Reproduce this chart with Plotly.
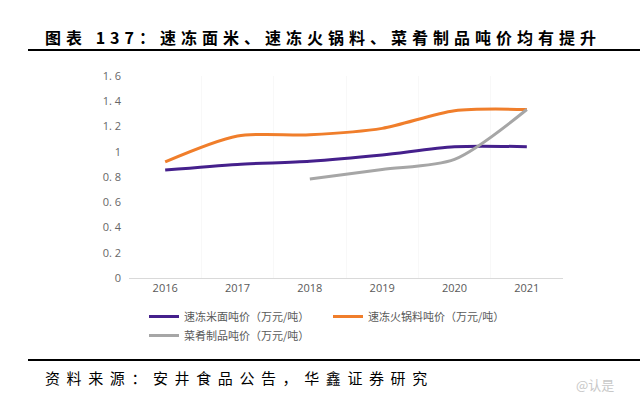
import plotly.graph_objects as go

years = ["2016", "2017", "2018", "2019", "2020", "2021"]
mian_mi = [0.855, 0.90, 0.925, 0.975, 1.04, 1.04]
huoguo = [0.92, 1.125, 1.135, 1.185, 1.325, 1.335]
caiyao = [None, None, 0.785, 0.86, 0.94, 1.335]
names = ["速冻米面吨价（万元/吨）", "速冻火锅料吨价（万元/吨）", "菜肴制品吨价（万元/吨）"]
colors = ["#45208C", "#F07E2B", "#A6A6A6"]
yticks = [0, 0.2, 0.4, 0.6, 0.8, 1.0, 1.2, 1.4, 1.6]
ytext = ["0", "0. 2", "0. 4", "0. 6", "0. 8", "1", "1. 2", "1. 4", "1. 6"]

fig = go.Figure()
for vals, nm, c in zip([mian_mi, huoguo, caiyao], names, colors):
    fig.add_trace(go.Scatter(x=years, y=vals, name=nm, mode="lines",
                             line=dict(color=c, width=3, shape="spline", smoothing=0.8),
                             connectgaps=False))

L, R, T, B = 129, 77, 76, 131
W, H = 640 - L - R, 409 - T - B

def px(x):
    return (x - L) / W

def py(y):
    return (409 - B - y) / H

fig.update_layout(
    template="none",
    width=640, height=409,
    margin=dict(l=L, r=R, t=T, b=B, autoexpand=False),
    paper_bgcolor="white", plot_bgcolor="white",
    font=dict(family="Noto Sans CJK SC, sans-serif", color="#595959", size=11),
    xaxis=dict(type="category", range=[-0.5, 5.5], showgrid=True, gridcolor="#f8f8f8",
               tickson="boundaries", ticks="", showline=True, linecolor="#d9d9d9", linewidth=1,
               tickfont=dict(size=11, color="#595959", family="Open Sans, sans-serif"), zeroline=False),
    yaxis=dict(range=[0, 1.6], tickvals=yticks, ticktext=ytext, showgrid=False, zeroline=False,
               showline=False, ticks="", tickfont=dict(size=11, color="#666666", family="Open Sans, sans-serif"),
               ticklabelstandoff=7),
    showlegend=True,
    legend=dict(orientation="h", x=px(144), y=py(302), xanchor="left", yanchor="top",
                font=dict(size=11, color="#595959"), entrywidth=139, tracegroupgap=0,
                itemwidth=30, bgcolor="rgba(0,0,0,0)"),
)

fig.add_annotation(text="<b><span style='letter-spacing:5px'>图表 137：速冻面米、速冻火锅料、菜肴制品吨价均有提升</span></b>",
                   xref="paper", yref="paper", x=px(43), y=py(37), xanchor="left", yanchor="middle",
                   showarrow=False, font=dict(size=16, color="#000000", family="Noto Sans CJK SC"))
fig.add_annotation(text="<span style='letter-spacing:6.6px'>资料来源：安井食品公告，华鑫证券研究</span>",
                   xref="paper", yref="paper", x=px(43), y=py(377), xanchor="left", yanchor="middle",
                   showarrow=False, font=dict(size=15, color="#000000", family="Noto Sans CJK SC"))
fig.add_annotation(text="@认是",
                   xref="paper", yref="paper", x=px(616), y=py(384), xanchor="right", yanchor="middle",
                   showarrow=False, font=dict(size=13, color="#c8c8c8", family="Noto Sans CJK SC"))
for yy in (50, 360):
    fig.add_shape(type="line", xref="paper", yref="paper", x0=px(28), x1=px(640),
                  y0=py(yy), y1=py(yy), line=dict(color="#000000", width=2))

fig.write_html("out.html", config={"displayModeBar": False},
               post_script="document.body.style.margin='0';")
